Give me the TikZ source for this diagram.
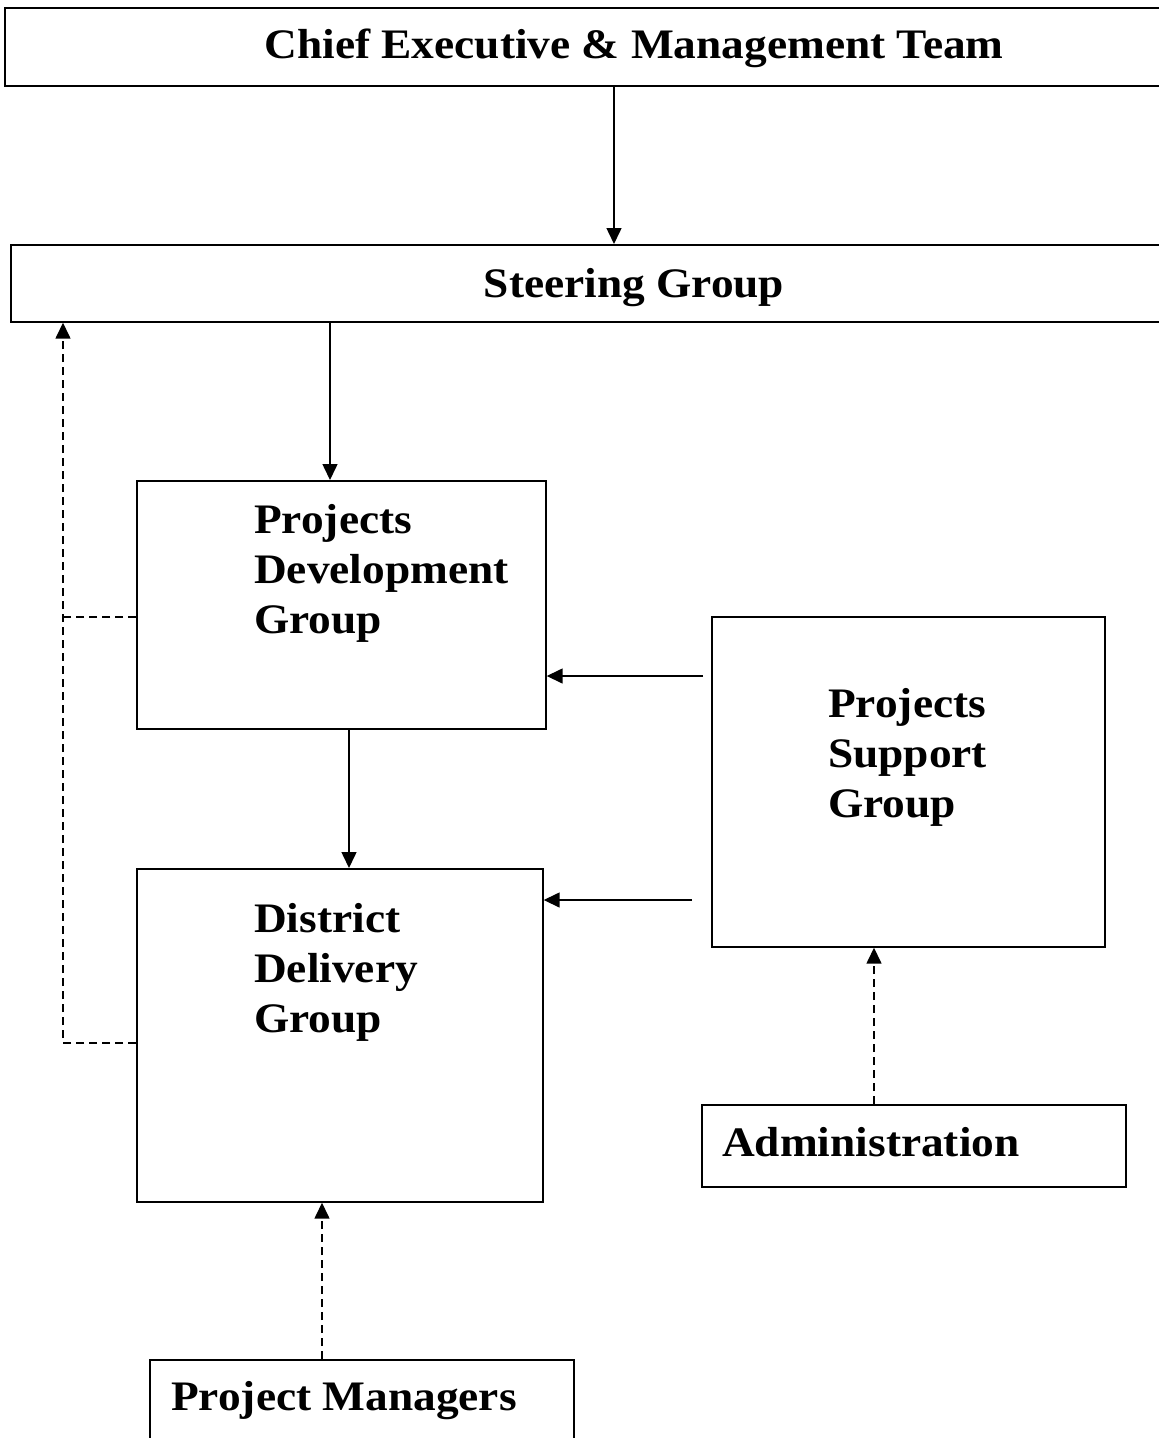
\documentclass[tikz,border=0pt]{standalone}
\usepackage{fontspec}
\setmainfont[FakeStretch=1.08]{Liberation Serif}
\usetikzlibrary{arrows.meta,calc}
\begin{document}
\begin{tikzpicture}[x=1pt,y=-1pt,
  box/.style={draw=black, line width=1.7pt, anchor=north west, inner sep=0pt},
  lbl/.style={font=\fontsize{42}{50}\selectfont\bfseries, inner sep=0pt},
  arr/.style={draw=black, line width=1.5pt, -{Triangle[length=16pt,width=15pt]}},
  dsh/.style={draw=black, line width=1.5pt, dash pattern=on 8pt off 5pt},
  darr/.style={dsh, -{Triangle[length=16pt,width=15pt]}}]
\useasboundingbox[fill=white] (0,0) rectangle (1159,1438);
% boxes
\node[box, minimum width=1171pt, minimum height=78pt] (ce) at (4,7) {};
\node[box, minimum width=1165pt, minimum height=77pt] (sg) at (10,244) {};
\node[box, minimum width=409pt, minimum height=248pt] (pdg) at (136,480) {};
\node[box, minimum width=406pt, minimum height=333pt] (ddg) at (136,868) {};
\node[box, minimum width=393pt, minimum height=330pt] (psg) at (711,616) {};
\node[box, minimum width=424pt, minimum height=82pt] (adm) at (701,1104) {};
\node[box, minimum width=424pt, minimum height=110pt] (pm) at (149,1359) {};
% texts
\node[lbl, anchor=base] (tce) at (634,58) {Chief Executive \& Management Team};
\node[lbl, anchor=base] (tsg) at (634,297) {Steering Group};
\node[lbl, anchor=base west] (tpdg1) at (254,533) {Projects};
\node[lbl, anchor=base west] (tpdg2) at (254,583) {Development};
\node[lbl, anchor=base west] (tpdg3) at (254,633) {Group};
\node[lbl, anchor=base west] (tddg1) at (254,932) {District};
\node[lbl, anchor=base west] (tddg2) at (254,982) {Delivery};
\node[lbl, anchor=base west] (tddg3) at (254,1032) {Group};
\node[lbl, anchor=base west] (tpsg1) at (828,717) {Projects};
\node[lbl, anchor=base west] (tpsg2) at (828,767) {Support};
\node[lbl, anchor=base west] (tpsg3) at (828,817) {Group};
\node[lbl, anchor=base west] (tadm) at (722,1156) {Administration};
\node[lbl, anchor=base west] (tpm) at (171,1410) {Project Managers};
% guide coordinates
\coordinate (xa) at (614,0);
\coordinate (xb) at (330,0);
\coordinate (xc) at (349,0);
\coordinate (xd) at (874,0);
\coordinate (xe) at (322,0);
\coordinate (xf) at (63,0);
\coordinate (ya) at (0,676);
\coordinate (yb) at (0,900);
\coordinate (yc) at (0,617);
\coordinate (yd) at (0,1043);
% solid connectors
\draw[arr] (ce.south -| xa) -- (sg.north -| xa);
\draw[arr] (sg.south -| xb) -- (pdg.north -| xb);
\draw[arr] (pdg.south -| xc) -- (ddg.north -| xc);
\draw[arr] ($(psg.west |- ya)+(-8,0)$) -- (pdg.east |- ya);
\draw[arr] ($(psg.west |- yb)+(-19,0)$) -- (ddg.east |- yb);
% dashed connectors
\draw[darr] (adm.north -| xd) -- (psg.south -| xd);
\draw[darr] (pm.north -| xe) -- (ddg.south -| xe);
\draw[dsh] (pdg.west |- yc) -- (xf |- yc);
\draw[darr] (ddg.west |- yd) -| (sg.south -| xf);
\end{tikzpicture}
\end{document}
